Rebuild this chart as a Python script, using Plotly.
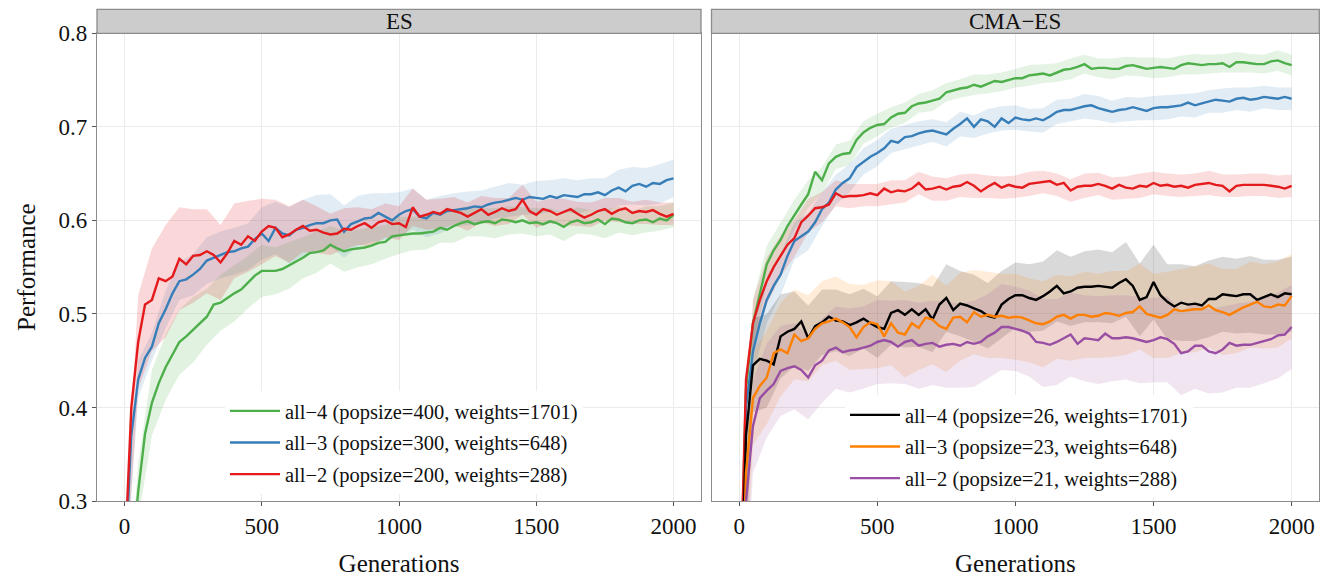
import plotly.graph_objects as go

# ---------------- data ----------------
GENERATIONS = list(range(0, 2001, 25))
BAND_GENERATIONS = list(range(0, 2001, 50))
X_TICKS = [0, 500, 1000, 1500, 2000]
Y_TICKS = [0.3, 0.4, 0.5, 0.6, 0.7, 0.8]
PANELS = ["ES", "CMA\u2212ES"]

# ES panel
ES_ALL4 = [0.12, 0.23, 0.31, 0.372, 0.405, 0.426, 0.443, 0.456, 0.470, 0.476, 0.483, 0.490, 0.497, 0.510, 0.512, 0.517,
           0.522, 0.526, 0.534, 0.541, 0.546, 0.546, 0.546, 0.548, 0.552, 0.556, 0.560, 0.565, 0.566, 0.568, 0.574, 0.570,
           0.567, 0.569, 0.570, 0.571, 0.573, 0.576, 0.577, 0.583, 0.584, 0.585, 0.586, 0.586, 0.587, 0.588, 0.592, 0.590,
           0.594, 0.597, 0.599, 0.596, 0.598, 0.599, 0.597, 0.601, 0.600, 0.598, 0.600, 0.597, 0.598, 0.596, 0.599, 0.597,
           0.593, 0.598, 0.600, 0.597, 0.598, 0.601, 0.596, 0.602, 0.601, 0.598, 0.597, 0.600, 0.601, 0.598, 0.602, 0.600,
           0.606]
ES_ALL3 = [0.22, 0.37, 0.43, 0.453, 0.465, 0.490, 0.505, 0.522, 0.535, 0.537, 0.542, 0.548, 0.557, 0.560, 0.563, 0.566,
           0.567, 0.570, 0.572, 0.580, 0.586, 0.578, 0.592, 0.586, 0.584, 0.590, 0.592, 0.595, 0.597, 0.597, 0.600, 0.601,
           0.588, 0.596, 0.599, 0.602, 0.603, 0.608, 0.604, 0.600, 0.606, 0.610, 0.612, 0.604, 0.602, 0.608, 0.606, 0.610,
           0.611, 0.612, 0.613, 0.615, 0.614, 0.617, 0.619, 0.620, 0.622, 0.624, 0.622, 0.625, 0.624, 0.623, 0.626, 0.624,
           0.627, 0.626, 0.625, 0.628, 0.628, 0.630, 0.627, 0.632, 0.635, 0.631, 0.637, 0.639, 0.636, 0.640, 0.639, 0.643,
           0.645]
ES_ALL2 = [0.23, 0.40, 0.47, 0.51, 0.515, 0.538, 0.535, 0.540, 0.559, 0.553, 0.562, 0.563, 0.567, 0.563, 0.555, 0.565,
           0.578, 0.574, 0.583, 0.578, 0.588, 0.594, 0.592, 0.582, 0.585, 0.590, 0.594, 0.589, 0.590, 0.587, 0.585, 0.586,
           0.591, 0.590, 0.594, 0.597, 0.592, 0.598, 0.600, 0.596, 0.597, 0.593, 0.614, 0.604, 0.606, 0.609, 0.607, 0.612,
           0.610, 0.608, 0.604, 0.608, 0.612, 0.606, 0.609, 0.613, 0.610, 0.612, 0.622, 0.610, 0.606, 0.612, 0.610, 0.606,
           0.609, 0.612, 0.607, 0.603, 0.606, 0.610, 0.612, 0.607, 0.611, 0.613, 0.608, 0.610, 0.609, 0.611, 0.607, 0.604,
           0.607]
ES_ALL4_HW = [0.02, 0.03, 0.035, 0.035, 0.035, 0.035, 0.03, 0.03, 0.03, 0.028, 0.028, 0.025, 0.025, 0.022, 0.022, 0.02,
              0.022, 0.02, 0.02, 0.018, 0.02, 0.018, 0.018, 0.016, 0.018, 0.016, 0.015, 0.016, 0.015, 0.014, 0.015,
              0.014, 0.015, 0.014, 0.013, 0.015, 0.014, 0.013, 0.014, 0.013, 0.013]
ES_ALL3_HW = [0.015, 0.02, 0.015, 0.02, 0.02, 0.022, 0.025, 0.025, 0.025, 0.025, 0.028, 0.028, 0.03, 0.03, 0.03, 0.028,
              0.028, 0.027, 0.026, 0.025, 0.024, 0.022, 0.02, 0.02, 0.018, 0.018, 0.018, 0.017, 0.018, 0.016, 0.018,
              0.017, 0.018, 0.018, 0.017, 0.018, 0.019, 0.02, 0.02, 0.021, 0.02]
ES_ALL2_HW = [0.03, 0.05, 0.055, 0.06, 0.055, 0.05, 0.045, 0.04, 0.04, 0.038, 0.035, 0.03, 0.03, 0.028, 0.025, 0.022,
              0.022, 0.02, 0.02, 0.018, 0.018, 0.02, 0.016, 0.016, 0.015, 0.015, 0.014, 0.015, 0.014, 0.016, 0.014,
              0.013, 0.014, 0.013, 0.013, 0.012, 0.013, 0.012, 0.013, 0.012, 0.012]

# CMA-ES panel
CMA_GREEN = [0.15, 0.42, 0.49, 0.52, 0.553, 0.568, 0.579, 0.594, 0.606, 0.617, 0.628, 0.652, 0.643, 0.661, 0.668, 0.671,
             0.672, 0.686, 0.694, 0.699, 0.702, 0.703, 0.710, 0.714, 0.715, 0.722, 0.725, 0.726, 0.728, 0.730, 0.737, 0.739,
             0.741, 0.742, 0.745, 0.743, 0.746, 0.749, 0.748, 0.750, 0.752, 0.752, 0.755, 0.756, 0.757, 0.755, 0.758, 0.761,
             0.762, 0.764, 0.767, 0.762, 0.763, 0.763, 0.762, 0.762, 0.765, 0.766, 0.764, 0.762, 0.763, 0.764, 0.763, 0.762,
             0.766, 0.768, 0.767, 0.766, 0.767, 0.767, 0.768, 0.764, 0.769, 0.769, 0.768, 0.767, 0.767, 0.770, 0.771, 0.768,
             0.766]
CMA_BLUE = [0.14, 0.40, 0.46, 0.49, 0.515, 0.530, 0.542, 0.562, 0.578, 0.583, 0.588, 0.598, 0.612, 0.619, 0.633, 0.640,
            0.645, 0.657, 0.663, 0.668, 0.672, 0.677, 0.685, 0.683, 0.689, 0.690, 0.693, 0.695, 0.696, 0.694, 0.692, 0.698,
            0.703, 0.709, 0.700, 0.708, 0.706, 0.700, 0.709, 0.704, 0.710, 0.708, 0.707, 0.709, 0.707, 0.711, 0.716, 0.718,
            0.718, 0.720, 0.722, 0.723, 0.720, 0.718, 0.716, 0.718, 0.719, 0.721, 0.719, 0.717, 0.720, 0.721, 0.721, 0.722,
            0.723, 0.726, 0.723, 0.725, 0.727, 0.729, 0.728, 0.727, 0.730, 0.731, 0.729, 0.730, 0.732, 0.731, 0.730, 0.732,
            0.730]
CMA_RED = [0.15, 0.43, 0.49, 0.515, 0.535, 0.550, 0.562, 0.574, 0.581, 0.598, 0.605, 0.613, 0.614, 0.617, 0.629, 0.625,
           0.626, 0.626, 0.627, 0.629, 0.627, 0.634, 0.630, 0.632, 0.631, 0.634, 0.640, 0.633, 0.634, 0.636, 0.633, 0.636,
           0.637, 0.641, 0.637, 0.631, 0.636, 0.640, 0.635, 0.638, 0.636, 0.635, 0.639, 0.640, 0.641, 0.642, 0.638, 0.640,
           0.632, 0.636, 0.637, 0.637, 0.639, 0.637, 0.634, 0.638, 0.635, 0.634, 0.637, 0.636, 0.640, 0.637, 0.638, 0.636,
           0.637, 0.635, 0.638, 0.639, 0.640, 0.638, 0.637, 0.631, 0.637, 0.638, 0.638, 0.638, 0.638, 0.637, 0.636, 0.634,
           0.637]
CMA_ALL4 = [0.12, 0.37, 0.445, 0.452, 0.450, 0.446, 0.476, 0.481, 0.484, 0.492, 0.474, 0.487, 0.491, 0.497, 0.493, 0.492,
            0.488, 0.491, 0.495, 0.490, 0.486, 0.484, 0.501, 0.504, 0.499, 0.505, 0.499, 0.505, 0.494, 0.510, 0.517, 0.504,
            0.511, 0.509, 0.506, 0.503, 0.498, 0.496, 0.510, 0.516, 0.520, 0.520, 0.517, 0.515, 0.519, 0.524, 0.530, 0.522,
            0.524, 0.528, 0.529, 0.529, 0.530, 0.529, 0.528, 0.533, 0.537, 0.530, 0.515, 0.518, 0.534, 0.520, 0.513, 0.508,
            0.512, 0.510, 0.511, 0.509, 0.516, 0.516, 0.521, 0.520, 0.519, 0.521, 0.521, 0.515, 0.518, 0.521, 0.518, 0.522,
            0.521]
CMA_ALL3 = [0.10, 0.33, 0.41, 0.423, 0.432, 0.458, 0.462, 0.458, 0.478, 0.471, 0.474, 0.484, 0.490, 0.492, 0.495, 0.491,
            0.486, 0.475, 0.486, 0.491, 0.489, 0.476, 0.490, 0.480, 0.478, 0.490, 0.485, 0.496, 0.494, 0.487, 0.484, 0.496,
            0.497, 0.491, 0.502, 0.497, 0.499, 0.497, 0.498, 0.496, 0.497, 0.496, 0.493, 0.490, 0.489, 0.492, 0.497, 0.499,
            0.495, 0.499, 0.499, 0.497, 0.498, 0.501, 0.500, 0.498, 0.501, 0.502, 0.508, 0.500, 0.498, 0.496, 0.499, 0.505,
            0.503, 0.504, 0.505, 0.505, 0.509, 0.504, 0.502, 0.499, 0.503, 0.507, 0.510, 0.513, 0.508, 0.507, 0.510, 0.509,
            0.519]
CMA_ALL2 = [0.10, 0.30, 0.38, 0.41, 0.418, 0.425, 0.439, 0.442, 0.444, 0.440, 0.432, 0.445, 0.450, 0.461, 0.464, 0.459,
            0.461, 0.462, 0.464, 0.466, 0.470, 0.472, 0.470, 0.465, 0.470, 0.472, 0.466, 0.468, 0.469, 0.465, 0.467, 0.468,
            0.466, 0.470, 0.468, 0.470, 0.476, 0.480, 0.486, 0.486, 0.484, 0.482, 0.479, 0.470, 0.469, 0.467, 0.470, 0.474,
            0.478, 0.468, 0.474, 0.473, 0.472, 0.479, 0.474, 0.474, 0.475, 0.474, 0.472, 0.470, 0.472, 0.475, 0.473, 0.468,
            0.458, 0.460, 0.466, 0.466, 0.460, 0.458, 0.462, 0.469, 0.466, 0.467, 0.467, 0.469, 0.471, 0.473, 0.477, 0.478,
            0.486]
CMA_GREEN_HW = [0.02, 0.025, 0.02, 0.018, 0.016, 0.015, 0.014, 0.013, 0.013, 0.012, 0.012, 0.011, 0.011, 0.010, 0.011,
                0.010, 0.010, 0.011, 0.010, 0.010, 0.010, 0.011, 0.010, 0.010, 0.011, 0.010, 0.010, 0.011, 0.010, 0.010,
                0.011, 0.010, 0.010, 0.011, 0.010, 0.010, 0.011, 0.010, 0.010, 0.011, 0.011]
CMA_BLUE_HW = [0.02, 0.025, 0.025, 0.022, 0.02, 0.02, 0.018, 0.016, 0.015, 0.014, 0.014, 0.013, 0.013, 0.013, 0.012,
               0.013, 0.013, 0.012, 0.013, 0.013, 0.013, 0.012, 0.013, 0.013, 0.012, 0.013, 0.013, 0.012, 0.013, 0.012,
               0.013, 0.013, 0.012, 0.013, 0.012, 0.013, 0.012, 0.013, 0.012, 0.012, 0.012]
CMA_RED_HW = [0.02, 0.025, 0.025, 0.022, 0.02, 0.018, 0.016, 0.014, 0.013, 0.012, 0.012, 0.013, 0.012, 0.012, 0.013,
              0.012, 0.012, 0.013, 0.012, 0.012, 0.012, 0.013, 0.012, 0.012, 0.012, 0.013, 0.012, 0.012, 0.012, 0.013,
              0.012, 0.012, 0.012, 0.012, 0.013, 0.012, 0.012, 0.012, 0.012, 0.012, 0.012]
CMA_ALL4_HW = [0.03, 0.05, 0.05, 0.045, 0.04, 0.035, 0.035, 0.033, 0.033, 0.032, 0.033, 0.034, 0.035, 0.034, 0.035,
               0.036, 0.035, 0.036, 0.035, 0.036, 0.035, 0.036, 0.037, 0.038, 0.037, 0.038, 0.039, 0.038, 0.040, 0.039,
               0.040, 0.040, 0.041, 0.040, 0.041, 0.040, 0.040, 0.041, 0.040, 0.040, 0.040]
CMA_ALL3_HW = [0.04, 0.05, 0.05, 0.05, 0.048, 0.046, 0.045, 0.045, 0.046, 0.045, 0.047, 0.045, 0.046, 0.045, 0.048,
               0.046, 0.047, 0.045, 0.046, 0.045, 0.046, 0.045, 0.046, 0.045, 0.045, 0.046, 0.045, 0.046, 0.045, 0.046,
               0.045, 0.046, 0.045, 0.046, 0.045, 0.046, 0.045, 0.046, 0.045, 0.046, 0.045]
CMA_ALL2_HW = [0.04, 0.05, 0.05, 0.048, 0.046, 0.045, 0.045, 0.044, 0.045, 0.044, 0.045, 0.044, 0.045, 0.046, 0.045,
               0.046, 0.045, 0.046, 0.045, 0.046, 0.045, 0.046, 0.047, 0.046, 0.045, 0.046, 0.047, 0.046, 0.045, 0.046,
               0.045, 0.046, 0.045, 0.046, 0.045, 0.046, 0.045, 0.046, 0.045, 0.046, 0.045]

# ---------------- styling ----------------
FONT = "Liberation Serif, Times New Roman, serif"
W, H = 1328, 577
COL = {
    "green": "#4DAF4A", "blue": "#377EB8", "red": "#E41A1C",
    "black": "#000000", "orange": "#FF7F00", "purple": "#984EA3",
}


def rgba(hex_color, a):
    h = hex_color.lstrip("#")
    return "rgba(%d,%d,%d,%.3f)" % (int(h[0:2], 16), int(h[2:4], 16), int(h[4:6], 16), a)


SERIES = [
    # (panel axis suffix, values, half-widths, color, legend name, legend id, band alpha)
    ("", ES_ALL4, ES_ALL4_HW, "green", "all\u22124 (popsize=400, weights=1701)", "legend", 0.17),
    ("", ES_ALL3, ES_ALL3_HW, "blue", "all\u22123 (popsize=300, weights=648)", "legend", 0.15),
    ("", ES_ALL2, ES_ALL2_HW, "red", "all\u22122 (popsize=200, weights=288)", "legend", 0.17),
    ("2", CMA_GREEN, CMA_GREEN_HW, "green", None, None, 0.15),
    ("2", CMA_BLUE, CMA_BLUE_HW, "blue", None, None, 0.15),
    ("2", CMA_RED, CMA_RED_HW, "red", None, None, 0.15),
    ("2", CMA_ALL4, CMA_ALL4_HW, "black", "all\u22124 (popsize=26, weights=1701)", "legend2", 0.15),
    ("2", CMA_ALL3, CMA_ALL3_HW, "orange", "all\u22123 (popsize=23, weights=648)", "legend2", 0.15),
    ("2", CMA_ALL2, CMA_ALL2_HW, "purple", "all\u22122 (popsize=21, weights=288)", "legend2", 0.15),
]

fig = go.Figure()

# bands first
for i, (ax, vals, hw, c, name, leg, alpha) in enumerate(SERIES):
    idx = [GENERATIONS.index(g) for g in BAND_GENERATIONS]
    upper = [vals[j] + h for j, h in zip(idx, hw)]
    lower = [vals[j] - h for j, h in zip(idx, hw)]
    fig.add_trace(go.Scatter(
        x=BAND_GENERATIONS + BAND_GENERATIONS[::-1],
        y=upper + lower[::-1],
        fill="toself", fillcolor=rgba(COL[c], alpha),
        line=dict(width=0), mode="lines", hoverinfo="skip",
        showlegend=False, legendgroup="g%d" % i,
        xaxis="x" + ax, yaxis="y" + ax,
    ))

# lines
for i, (ax, vals, hw, c, name, leg, alpha) in enumerate(SERIES):
    kw = dict(showlegend=False)
    if name:
        kw = dict(showlegend=True, name=name, legend=leg)
    fig.add_trace(go.Scatter(
        x=GENERATIONS, y=vals, mode="lines",
        line=dict(color=COL[c], width=2.4),
        legendgroup="g%d" % i,
        xaxis="x" + ax, yaxis="y" + ax, **kw,
    ))

# ---------------- layout ----------------
L_X0, L_X1 = 97.0, 701.0
R_X0, R_X1 = 711.5, 1319.3
P_TOP, P_BOT = 33.3, 501.0
S_TOP = 9.3
GRID = "#EBEBEB"
BORDER = "#8C8C8C"

xcommon = dict(
    range=[-100, 2100], tickvals=X_TICKS, ticktext=[str(v) for v in X_TICKS],
    showgrid=True, gridcolor=GRID, gridwidth=1, zeroline=False,
    showline=True, linecolor=BORDER, linewidth=1.3, mirror=True,
    ticks="outside", ticklen=4, tickcolor="#555555", tickwidth=1,
    tickfont=dict(family=FONT, size=23, color="#111111"),
    automargin=False,
    title=dict(text="Generations", font=dict(family=FONT, size=25, color="#111111"), standoff=28),
)
ycommon = dict(
    range=[0.3, 0.8], tickvals=Y_TICKS,
    showgrid=True, gridcolor=GRID, gridwidth=1, zeroline=False,
    showline=True, linecolor=BORDER, linewidth=1.3, mirror=True,
    automargin=False,
    domain=[1 - P_BOT / H, 1 - P_TOP / H],
)

LEGEND_FONT = dict(family=FONT, size=20.5, color="#111111")

fig.update_layout(
    width=W, height=H,
    margin=dict(l=0, r=0, t=0, b=0, autoexpand=False),
    paper_bgcolor="white", plot_bgcolor="white",
    font=dict(family=FONT, color="#111111"),
    xaxis=dict(domain=[L_X0 / W, L_X1 / W], anchor="y", **xcommon),
    xaxis2=dict(domain=[R_X0 / W, R_X1 / W], anchor="y2", **xcommon),
    yaxis=dict(anchor="x", ticks="outside", ticklen=4, tickcolor="#555555",
               tickformat=".1f",
               tickfont=dict(family=FONT, size=23, color="#111111"),
               title=dict(text="Performance", font=dict(family=FONT, size=25, color="#111111"), standoff=15),
               **ycommon),
    yaxis2=dict(anchor="x2", matches="y", showticklabels=False, ticks="", **ycommon),
    legend=dict(x=225 / W, y=1 - 391 / H, xanchor="left", yanchor="top",
                bgcolor="white", borderwidth=0, tracegroupgap=2, itemwidth=50,
                font=LEGEND_FONT),
    legend2=dict(x=845 / W, y=1 - 395 / H, xanchor="left", yanchor="top",
                 bgcolor="white", borderwidth=0, tracegroupgap=2, itemwidth=50,
                 font=LEGEND_FONT),
    showlegend=True,
)

# facet strips
shapes = []
annotations = []
for (x0, x1), label in zip([(L_X0, L_X1), (R_X0, R_X1)], PANELS):
    shapes.append(dict(type="rect", xref="paper", yref="paper",
                       x0=x0 / W, x1=x1 / W, y0=1 - P_TOP / H, y1=1 - S_TOP / H,
                       fillcolor="#CCCCCC", line=dict(color=BORDER, width=1.3), layer="above"))
    annotations.append(dict(text=label, xref="paper", yref="paper",
                            x=(x0 + x1) / 2 / W, y=1 - (S_TOP + P_TOP) / 2 / H,
                            xanchor="center", yanchor="middle", showarrow=False,
                            font=dict(family=FONT, size=23, color="#111111")))
fig.update_layout(shapes=shapes, annotations=annotations)

fig.write_html("out.html")
